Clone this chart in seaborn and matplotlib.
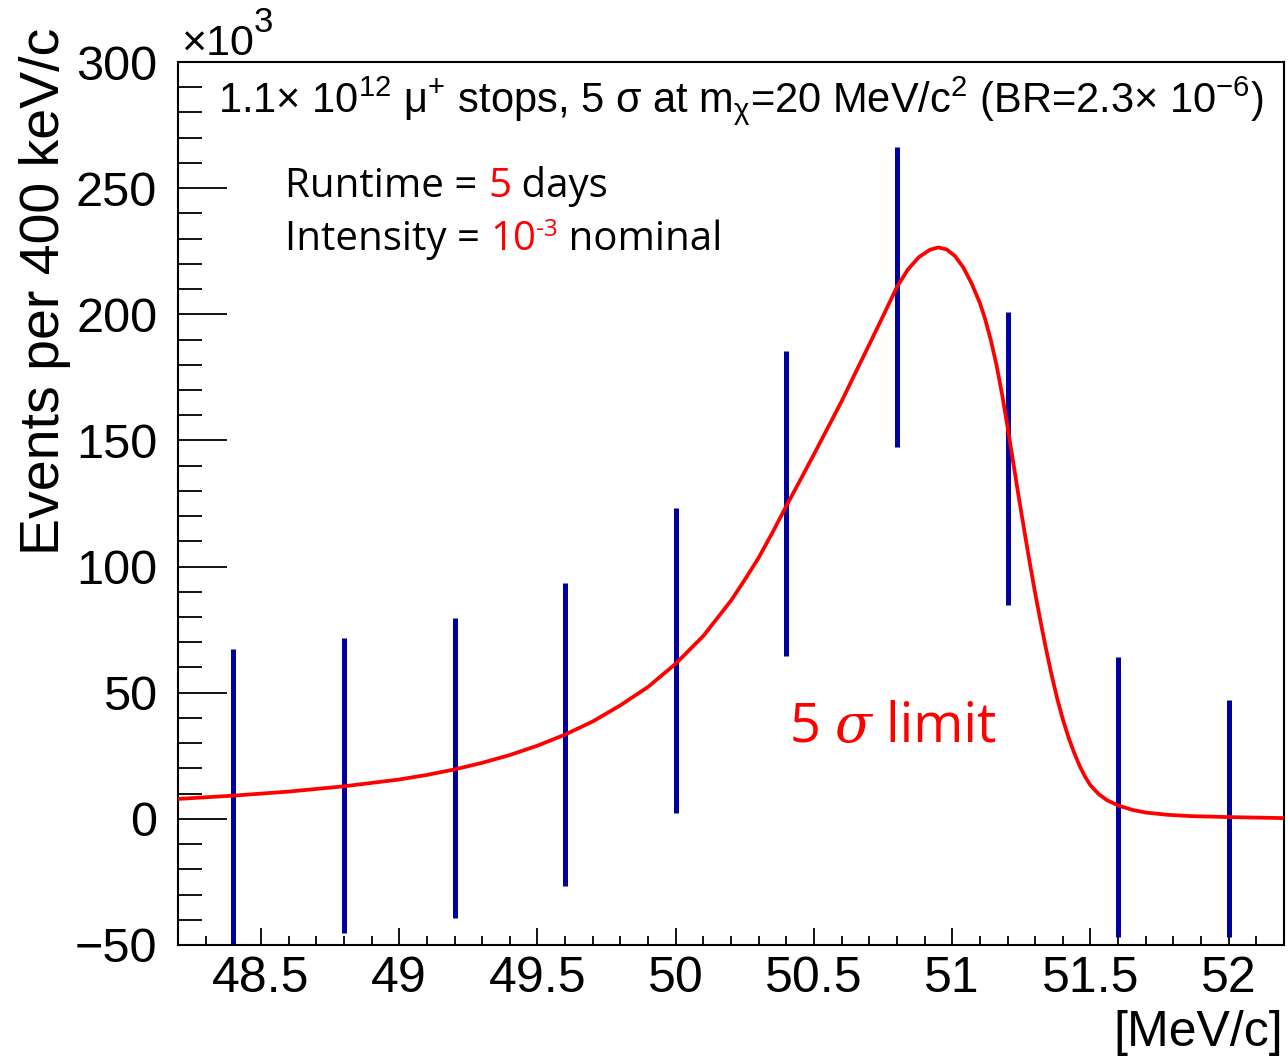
import pandas as pd
import matplotlib
matplotlib.use('Agg')
import matplotlib.pyplot as plt
from matplotlib.ticker import MultipleLocator
import seaborn as sns

# data (values in units of 10^3)
bin_x = [48.4, 48.8, 49.2, 49.6, 50.0, 50.4, 50.8, 51.2, 51.6, 52.0]
bin_y = [9.0, 13.3, 20.2, 33.5, 62.9, 125.0, 207.0, 142.8, 8.7, 0.2]
bin_err = [58.5, 58.5, 59.5, 60.0, 60.5, 60.3, 59.5, 58.0, 55.6, 47.0]

# red fit curve
curve_x = [48.2, 48.4, 48.6, 48.8, 49.0, 49.1, 49.2, 49.3, 49.4, 49.5,
           49.6, 49.7, 49.8, 49.9, 50.0, 50.1, 50.2, 50.25, 50.3, 50.35,
           50.4, 50.45, 50.5, 50.55, 50.6, 50.65, 50.7, 50.75, 50.8, 50.84,
           50.88, 50.92, 50.95, 50.98, 51.01, 51.04, 51.07, 51.1, 51.12,
           51.14, 51.16, 51.18, 51.2, 51.22, 51.24, 51.26, 51.28, 51.3,
           51.32, 51.34, 51.36, 51.38, 51.4, 51.42, 51.44, 51.46, 51.48,
           51.5, 51.53, 51.56, 51.6, 51.65, 51.7, 51.78, 51.86, 52.0, 52.2]
curve_y = [7.9, 9.2, 10.8, 12.9, 15.6, 17.4, 19.6, 22.2, 25.3, 29.0,
           33.4, 38.6, 45.0, 52.3, 61.5, 72.5, 86.5, 94.8, 103.5, 113.5,
           124.0, 134.2, 144.5, 155.0, 165.5, 176.8, 188.0, 199.3, 210.8, 217.8,
           222.7, 225.6, 226.5, 225.7, 223.1, 218.6, 212.3, 204.5, 197.8,
           189.6, 180.0, 168.5, 155.5, 141.8, 128.0, 114.8, 101.8, 89.5,
           78.0, 67.0, 56.8, 47.6, 39.5, 32.5, 26.5, 21.2, 16.8,
           13.3, 9.8, 7.4, 5.3, 3.6, 2.5, 1.6, 1.1, 0.7, 0.3]

xtick_vals = [48.5, 49, 49.5, 50, 50.5, 51, 51.5, 52]
xtick_labels = ['48.5', '49', '49.5', '50', '50.5', '51', '51.5', '52']
ytick_vals = [-50, 0, 50, 100, 150, 200, 250, 300]

sns.set_style('ticks')
plt.rcParams['font.family'] = ['Liberation Sans', 'DejaVu Sans']
plt.rcParams['mathtext.fontset'] = 'custom'
plt.rcParams['mathtext.rm'] = 'Liberation Sans'
plt.rcParams['mathtext.it'] = 'Liberation Sans'
plt.rcParams['mathtext.bf'] = 'Liberation Sans'
for k in ['text.color', 'axes.labelcolor', 'xtick.color', 'ytick.color',
          'axes.edgecolor']:
    plt.rcParams[k] = 'black'

W, H = 1288, 1060
fig = plt.figure(figsize=(W / 100, H / 100), dpi=100)
ax = fig.add_axes([178 / W, 1 - 945 / H, (1284 - 178) / W, (945 - 62) / H])

ax.errorbar(bin_x, bin_y, yerr=bin_err, fmt='none', ecolor='#0000a0',
            elinewidth=3.6, capsize=0, zorder=2)
df = pd.DataFrame({'x': curve_x, 'y': curve_y})
sns.lineplot(data=df, x='x', y='y', color='#ff0000', linewidth=2.7, ax=ax,
             sort=True, zorder=3)

ax.set_xlim(48.2, 52.2)
ax.set_ylim(-50, 300)
ax.set_xlabel('')
ax.set_ylabel('')
ax.set_xticks(xtick_vals, xtick_labels)
ax.set_yticks(ytick_vals)
ax.xaxis.set_minor_locator(MultipleLocator(0.1))
ax.yaxis.set_minor_locator(MultipleLocator(10))
ax.tick_params(axis='both', which='both', direction='in', color='black',
               width=1.3, bottom=True, left=True, top=False, right=False)
ax.tick_params(axis='y', which='major', length=35, pad=15, labelsize=35)
ax.tick_params(axis='y', which='minor', length=17)
ax.tick_params(axis='x', which='major', length=12, pad=8, labelsize=36)
ax.tick_params(axis='x', which='minor', length=6.5)
for s in ax.spines.values():
    s.set_visible(True)
    s.set_color('black')
    s.set_linewidth(1.5)

# axis titles in ROOT style
fig.text(45 / W, 1 - 28 / H, 'Events per 400 keV/c', rotation=90,
         ha='center', va='top', fontsize=40)
fig.text(1283 / W, 1 - 1056 / H, '[MeV/c]', ha='right', va='bottom',
         fontsize=36)

fig.text(218 / W, 1 - 112 / H,
         r'1.1$\times$ 10$^{12}$ μ$^{+}$ stops, 5 σ at m$_{χ}$=20 MeV/c$^{2}$'
         r' (BR=2.3$\times$ 10$^{-6}$)',
         ha='left', va='baseline', fontsize=30)

rend = fig.canvas.get_renderer()


def chain(x_px, base_px, parts):
    # pieces of text placed one after the other on a common baseline
    x = x_px
    for s, c, fs, fam, style, dy in parts:
        t = fig.text(x / W, 1 - (base_px - dy) / H, s, color=c, fontsize=fs,
                     family=fam, style=style, ha='left', va='baseline')
        x = t.get_window_extent(renderer=rend).x1


lib = ['Liberation Sans', 'DejaVu Sans']
cal = ['Open Sans', 'DejaVu Sans']
serif = ['DejaVu Serif']

chain(181, 55, [('×10', 'black', 31, lib, 'normal', 0),
                ('3', 'black', 25, lib, 'normal', 23)])

fs = 29
chain(285, 197, [('Runtime = ', 'black', fs, cal, 'normal', 0),
                 ('5', '#ff0000', fs, cal, 'normal', 0),
                 (' days', 'black', fs, cal, 'normal', 0)])
chain(285, 250, [('Intensity = ', 'black', fs, cal, 'normal', 0),
                 ('10', '#ff0000', fs, cal, 'normal', 0),
                 ('-3', '#ff0000', fs * 0.6, cal, 'normal', 14),
                 (' nominal', 'black', fs, cal, 'normal', 0)])

chain(790, 742, [('5 ', '#ff0000', 39, cal, 'normal', 0),
                 ('σ', '#ff0000', 39, serif, 'italic', 0),
                 (' limit', '#ff0000', 39, cal, 'normal', 0)])

fig.savefig('out.png', dpi=100)
